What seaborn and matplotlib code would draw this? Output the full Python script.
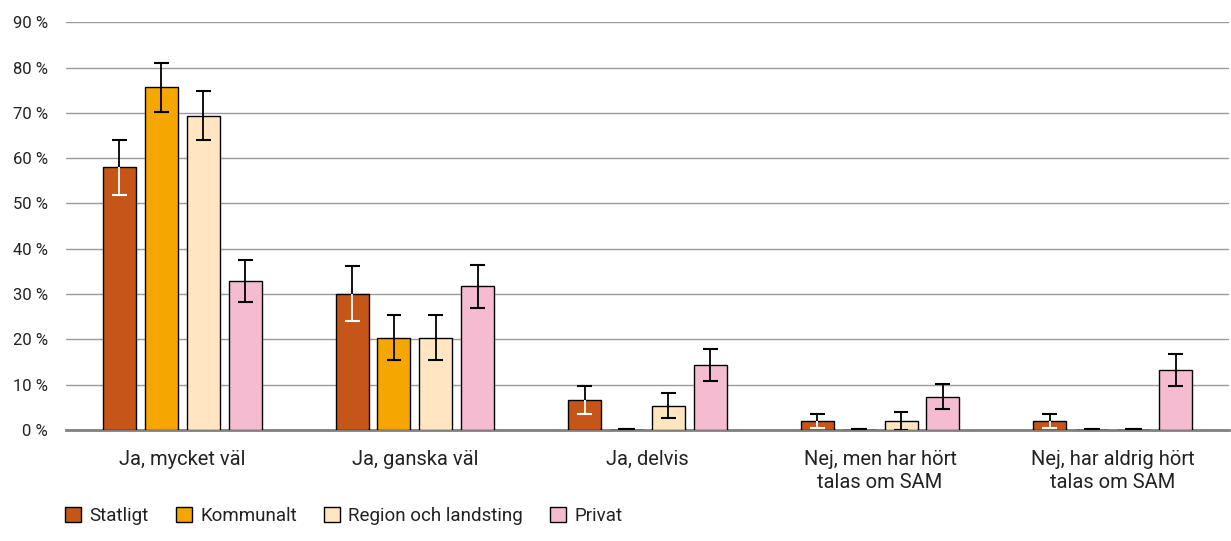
import matplotlib
matplotlib.use('Agg')
import matplotlib.pyplot as plt
import seaborn as sns
import pandas as pd
from matplotlib.ticker import FuncFormatter, MultipleLocator

kategorier = ['Ja, mycket väl', 'Ja, ganska väl', 'Ja, delvis',
              'Nej, men har hört\ntalas om SAM', 'Nej, har aldrig hört\ntalas om SAM']
sektorer = ['Statligt', 'Kommunalt', 'Region och landsting', 'Privat']

statligt = [58.0, 30.1, 6.6, 2.0, 2.0]
kommunalt = [75.6, 20.4, 0.0, 0.0, 0.0]
region = [69.4, 20.4, 5.4, 2.0, 0.0]
privat = [32.9, 31.7, 14.3, 7.4, 13.2]

fel_statligt = [6.1, 6.0, 3.1, 1.6, 1.6]
fel_kommunalt = [5.5, 5.0, 0.0, 0.0, 0.0]
fel_region = [5.5, 4.9, 2.7, 1.9, 0.0]
fel_privat = [4.7, 4.7, 3.5, 2.8, 3.5]

farger = ['#C55617', '#F5A600', '#FFE5C0', '#F4BBD1']

varden = [statligt, kommunalt, region, privat]
fel = [fel_statligt, fel_kommunalt, fel_region, fel_privat]

rows = []
for s, v in zip(sektorer, varden):
    for k, x in zip(kategorier, v):
        rows.append({'kategori': k, 'sektor': s, 'andel': x})
df = pd.DataFrame(rows)

sns.set_style('white')
plt.rcParams['font.family'] = ['Roboto', 'DejaVu Sans']

fig = plt.figure(figsize=(12.31, 5.41), dpi=100)
ax = fig.add_axes([0.0536, 0.205, 0.9448, 0.754])

sns.barplot(data=df, x='kategori', y='andel', hue='sektor', order=kategorier,
            hue_order=sektorer, palette=farger, saturation=1, edgecolor='black',
            linewidth=1, width=0.72, gap=0.21, ax=ax, legend=True, zorder=3)

# felstaplar
cw = 0.032
for i, cont in enumerate(ax.containers):
    lower_col = 'white' if i == 0 else 'black'
    for bar, e in zip(cont, fel[i]):
        x = bar.get_x() + bar.get_width() / 2
        h = bar.get_height()
        if e == 0:
            ax.hlines(h, x - cw * 1.1, x + cw * 1.1, color='black', lw=3, zorder=4)
            continue
        ax.vlines(x, h, h + e, color='black', lw=1.3, zorder=4)
        ax.hlines(h + e, x - cw, x + cw, color='black', lw=1.5, zorder=4)
        ax.vlines(x, h - e, h, color=lower_col, lw=1.3, zorder=4)
        ax.hlines(h - e, x - cw, x + cw, color=lower_col, lw=1.5, zorder=4)

ax.set_ylim(0, 90)
ax.set_xlim(-0.5, 4.5)
ax.yaxis.set_major_locator(MultipleLocator(10))
ax.yaxis.set_major_formatter(FuncFormatter(lambda v, p: f'{int(v)} %'))
ax.grid(axis='y', color='#9a9a9a', lw=1, zorder=0)
ax.set_axisbelow(True)
for sp in ['top', 'right', 'left']:
    ax.spines[sp].set_visible(False)
ax.spines['bottom'].set_color('#808080')
ax.spines['bottom'].set_linewidth(2)
ax.spines['bottom'].set_zorder(2)
ax.tick_params(axis='y', length=0, pad=13, labelsize=12, labelcolor='#222222')
ax.tick_params(axis='x', length=0, pad=14, labelsize=14.5, labelcolor='#222222')
for t in ax.get_xticklabels():
    t.set_linespacing(1.3)
ax.set_xlabel('')
ax.set_ylabel('')

handles, labels = ax.get_legend_handles_labels()
ax.legend_.remove()
fig.legend(handles, labels, loc='center left', bbox_to_anchor=(0.039, 0.047),
           ncol=4, frameon=False, fontsize=13.5, handlelength=0.85, handleheight=0.85,
           handletextpad=0.45, columnspacing=1.45, labelcolor='#222222')

plt.savefig('out.png', dpi=100)
